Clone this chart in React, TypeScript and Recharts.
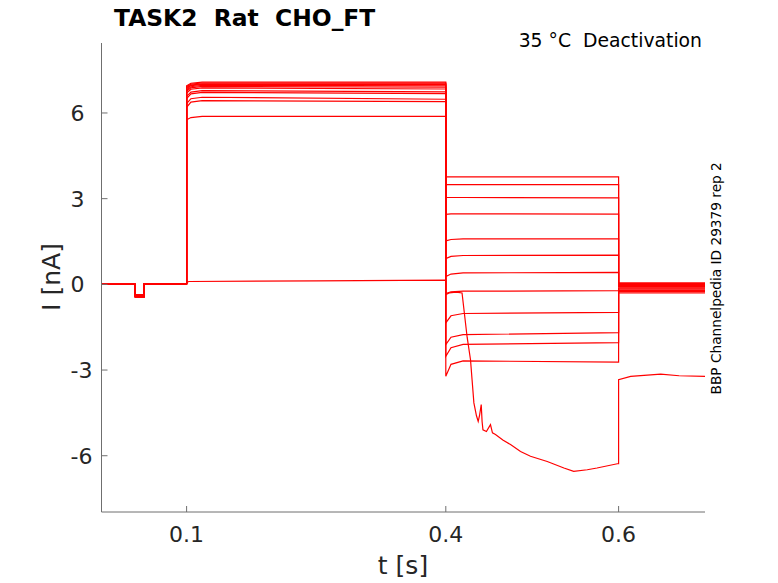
import React from 'react';
import { LineChart, Line, XAxis, YAxis } from 'recharts';

const W = 778;
const H = 583;

const xDomain = [0.0015, 0.7];
const yDomain = [-7.97, 8.45];
const xTicks = [0.1, 0.4, 0.6];
const yTicks = [-6, -3, 0, 3, 6];

// protocol step times [s]
const tPreOn = 0.0405;
const tPreOff = 0.051;
const tAct = 0.1;
const tTail = 0.4;
const tRet = 0.6;

// per-sweep levels [nA]
const baseStart = [0, 0, 0, 0, 0, 0, 0, 0, 0, 0, 0, 0];
const prePulse = [-0.36, -0.37, -0.38, -0.39, -0.4, -0.41, -0.42, -0.42, -0.43, -0.44, -0.45, -0.45];
const baseAfter = [0.02, 0.02, 0.02, 0.02, 0.03, 0.03, 0.03, 0.03, 0.02, 0.02, 0.02, 0.03];
const actOnset = [6.95, 6.92, 6.88, 6.85, 6.8, 6.76, 6.7, 6.58, 6.5, 6.33, 6.2, 5.76];
const actEarly = [7.04, 7.01, 6.98, 6.96, 6.92, 6.88, 6.83, 6.73, 6.67, 6.5, 6.38, 5.84];
const actLevel = [7.08, 7.05, 7.02, 7.0, 6.97, 6.93, 6.88, 6.78, 6.72, 6.55, 6.43, 5.88];
const actEnd = [7.08, 7.05, 7.02, 6.99, 6.95, 6.9, 6.84, 6.74, 6.68, 6.48, 6.4, 5.88];
const tailOnset = [3.76, 3.49, 3.04, 2.45, 1.52, 0.9, 0.27, -0.32, -1.35, -2.11, -2.52, -3.22];
const tailEarly = [3.76, 3.49, 3.04, 2.47, 1.57, 0.98, 0.36, -0.26, -1.1, -1.85, -2.22, -2.8];
const tailLevel = [3.76, 3.49, 3.04, 2.47, 1.59, 1.01, 0.4, -0.24, -1.02, -1.76, -2.1, -2.68];
const tailEnd = [3.76, 3.49, 3.03, 2.46, 1.59, 1.02, 0.42, -0.22, -0.98, -1.69, -2.04, -2.72];
const retLevel = [0.05, 0.03, 0.01, -0.01, -0.04, -0.07, -0.1, -0.13, -0.17, -0.21, -0.25, -0.3];

// odd sweep (leak breakdown during tail)
const oddT = [0.0015, 0.0405, 0.0405, 0.051, 0.051, 0.1, 0.1, 0.103, 0.25, 0.4, 0.4, 0.404, 0.412, 0.4188,
  0.4247, 0.4286, 0.4304, 0.4325, 0.4355, 0.4375, 0.439, 0.441, 0.442, 0.443, 0.447, 0.4517, 0.454, 0.4575,
  0.466, 0.4749, 0.4865, 0.498, 0.5174, 0.5367, 0.548, 0.5637, 0.575, 0.5985, 0.6, 0.6, 0.614, 0.6487, 0.67, 0.7];
const oddI = [0, 0, -0.42, -0.42, 0.02, 0.03, 0.08, 0.1, 0.12, 0.15, -0.36, -0.3, -0.27, -0.3,
  -1.85, -2.64, -3.34, -4.15, -4.6, -4.8, -4.6, -4.21, -4.8, -5.09, -5.15, -4.91, -5.2, -5.26,
  -5.45, -5.61, -5.85, -6.02, -6.2, -6.43, -6.55, -6.49, -6.43, -6.28, -6.28, -3.34, -3.22, -3.14, -3.2, -3.22];

const buildSweep = (k: number) => [
  { t: xDomain[0], i: baseStart[k] },
  { t: tPreOn, i: baseStart[k] },
  { t: tPreOn, i: prePulse[k] },
  { t: tPreOff, i: prePulse[k] },
  { t: tPreOff, i: baseAfter[k] },
  { t: tAct, i: baseAfter[k] },
  { t: tAct, i: actOnset[k] },
  { t: 0.105, i: actEarly[k] },
  { t: 0.118, i: actLevel[k] },
  { t: tTail, i: actEnd[k] },
  { t: tTail, i: tailOnset[k] },
  { t: 0.406, i: tailEarly[k] },
  { t: 0.42, i: tailLevel[k] },
  { t: tRet, i: tailEnd[k] },
  { t: tRet, i: retLevel[k] },
  { t: xDomain[1], i: retLevel[k] },
];

const sweeps = actLevel.map((_, k) => buildSweep(k));
const oddSweep = oddT.map((t, j) => ({ t, i: oddI[j] }));

const AXIS = '#6f6f6f';
const TXT = '#262626';
const FONT = 'DejaVu Sans, sans-serif';

const XTick = (props: any) => {
  const { x, y, payload } = props;
  return (
    <g>
      <line x1={x} x2={x} y1={y} y2={y - 6} stroke={AXIS} strokeWidth={1} />
      <text x={x} y={y + 30} textAnchor="middle" fontSize={22} fontFamily={FONT} fill={TXT}>
        {String(payload.value)}
      </text>
    </g>
  );
};

const YTick = (props: any) => {
  const { x, y, payload } = props;
  return (
    <g>
      <line x1={x} x2={x + 6} y1={y} y2={y} stroke={AXIS} strokeWidth={1} />
      <text x={x - 31} y={y + 8} textAnchor="start" fontSize={22} fontFamily={FONT} fill={TXT}>
        {String(payload.value)}
      </text>
    </g>
  );
};

export default function App() {
  return (
    <div style={{ position: 'absolute', left: 0, top: 0, width: W, height: H, background: '#fff' }}>
      <LineChart width={W} height={H} margin={{ top: 43, right: 73, bottom: 0, left: 0 }}>
        <XAxis
          dataKey="t"
          type="number"
          domain={xDomain}
          allowDataOverflow
          ticks={xTicks}
          tickSize={0}
          tickMargin={0}
          tickLine={false}
          height={71}
          stroke={AXIS}
          tick={<XTick />}
        />
        <YAxis
          dataKey="i"
          type="number"
          domain={yDomain}
          allowDataOverflow
          ticks={yTicks}
          tickSize={0}
          tickMargin={0}
          tickLine={false}
          width={101.5}
          stroke={AXIS}
          tick={<YTick />}
        />
        {sweeps.map((d, k) => (
          <Line
            key={k}
            data={d}
            dataKey="i"
            type="linear"
            stroke="#ff0000"
            strokeWidth={1.2}
            dot={false}
            activeDot={false}
            isAnimationActive={false}
          />
        ))}
        <Line
          data={oddSweep}
          dataKey="i"
          type="linear"
          stroke="#ff0000"
          strokeWidth={1.2}
          dot={false}
          activeDot={false}
          isAnimationActive={false}
        />
      </LineChart>
      <svg width={W} height={H} style={{ position: 'absolute', left: 0, top: 0, pointerEvents: 'none' }}>
        <text x={114} y={26} fontSize={23.4} fontWeight="bold" fontFamily={FONT} fill="#000" style={{ whiteSpace: 'pre' }}>
          {'TASK2  Rat  CHO_FT'}
        </text>
        <text x={702} y={47} textAnchor="end" fontSize={18.8} fontFamily={FONT} fill="#000" style={{ whiteSpace: 'pre' }}>
          {'35 °C  Deactivation'}
        </text>
        <text
          x={721.5}
          y={278.3}
          textAnchor="middle"
          fontSize={13.7}
          fontFamily={FONT}
          fill="#000"
          transform="rotate(-90 721.5 278.3)"
        >
          BBP Channelpedia ID 29379 rep 2
        </text>
        <text
          x={60}
          y={277}
          textAnchor="middle"
          fontSize={25}
          fontFamily={FONT}
          fill={TXT}
          transform="rotate(-90 60 277)"
          style={{ whiteSpace: 'pre' }}
        >
          {'I [nA]'}
        </text>
        <text x={403} y={574} textAnchor="middle" fontSize={25} fontFamily={FONT} fill={TXT} style={{ whiteSpace: 'pre' }}>
          {'t [s]'}
        </text>
      </svg>
    </div>
  );
}
